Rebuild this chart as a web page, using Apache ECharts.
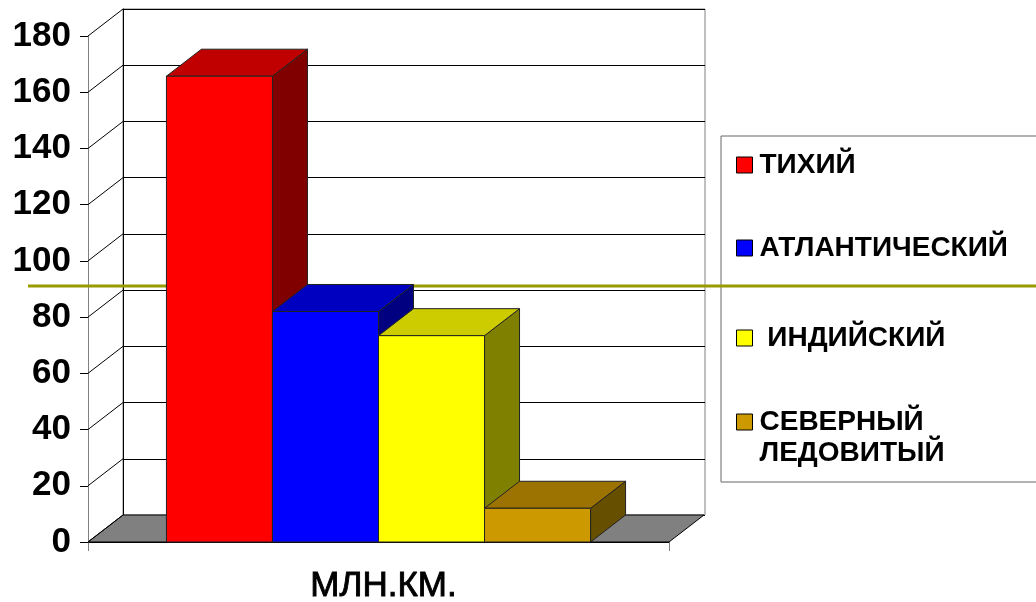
<!DOCTYPE html>
<html>
<head>
<meta charset="utf-8">
<script src="https://cdn.jsdelivr.net/npm/echarts@6/dist/echarts.min.js"></script>
<style>
html,body{margin:0;padding:0;background:#fff;}
#c{width:1036px;height:602px;}
</style>
</head>
<body>
<div id="c"></div>
<script>
// ---- data ----
const categories = ['МЛН.КМ.'];
const oceanNames = ['ТИХИЙ', 'АТЛАНТИЧЕСКИЙ', ' ИНДИЙСКИЙ', 'СЕВЕРНЫЙ ЛЕДОВИТЫЙ'];
const oceanValues = [165.7, 82, 73.4, 12];
const yMin = 0, yMax = 180, yStep = 20;
const yTicks = [0, 20, 40, 60, 80, 100, 120, 140, 160, 180];

// ---- styles ----
const frontColors = ['#FF0000', '#0000FF', '#FFFF00', '#CC9900'];
const topColors   = ['#C00000', '#0000C0', '#CCCC00', '#9C7300'];
const sideColors  = ['#800000', '#000080', '#808000', '#665000'];
const legendTextPadding = [[0, 0, 0, 2], [37, 0, 37, 2], [7, 0, 7, 2], [0, 0, 0, 2]];
const DX = 35, DY = -27;          // 3D depth offset
const GROUP_RATIO = 0.73;         // share of the band used by the bar group
const edge = '#222';

const chart = echarts.init(document.getElementById('c'), null, {renderer: 'canvas'});

function barSeries(i) {
  return {
    type: 'custom',
    name: oceanNames[i],
    xAxisIndex: 0, yAxisIndex: 0,
    z: 5,
    itemStyle: {color: frontColors[i]},
    data: [[0, oceanValues[i]]],
    renderItem: function (params, api) {
      const top = api.coord([api.value(0), api.value(1)]);
      const base = api.coord([api.value(0), 0]);
      const band = api.size([1, 0])[0];
      const gw = band * GROUP_RATIO;
      const bw = gw / oceanNames.length;
      const x0 = top[0] - gw / 2 + i * bw;
      const x1 = x0 + bw;
      const yT = top[1], yB = base[1];
      return {
        type: 'group',
        children: [
          {type: 'polygon', shape: {points: [[x1, yT], [x1 + DX, yT + DY], [x1 + DX, yB + DY], [x1, yB]]},
           style: {fill: sideColors[i], stroke: edge, lineWidth: 1}},
          {type: 'polygon', shape: {points: [[x0, yT], [x1, yT], [x1 + DX, yT + DY], [x0 + DX, yT + DY]]},
           style: {fill: topColors[i], stroke: edge, lineWidth: 1}},
          {type: 'rect', shape: {x: x0, y: yT, width: bw, height: yB - yT},
           style: {fill: frontColors[i], stroke: edge, lineWidth: 1}}
        ]
      };
    }
  };
}

const series = [
  // floor
  {
    type: 'custom', name: '_floor', xAxisIndex: 0, yAxisIndex: 0, z: 2, silent: true,
    data: [[0, 0]],
    renderItem: function (params, api) {
      const cs = params.coordSys;
      const y0 = api.coord([0, 0])[1];
      const xl = cs.x, xr = cs.x + cs.width;
      return {type: 'polygon',
        shape: {points: [[xl, y0], [xr, y0], [xr + DX, y0 + DY], [xl + DX, y0 + DY]]},
        style: {fill: '#808080', stroke: '#000', lineWidth: 1}};
    }
  },
  // side wall grid lines
  {
    type: 'custom', name: '_side', xAxisIndex: 0, yAxisIndex: 0, z: 3, silent: true,
    data: yTicks.map(v => [0, v]),
    renderItem: function (params, api) {
      const cs = params.coordSys;
      const y = api.coord([0, api.value(1)])[1];
      return {type: 'line',
        shape: {x1: cs.x, y1: y, x2: cs.x + DX, y2: y + DY},
        style: {stroke: '#000', lineWidth: 1}};
    }
  }
].concat(oceanNames.map((n, i) => barSeries(i)));

const labelFont = 'Liberation Sans, Arial, sans-serif';

chart.setOption({
  animation: false,
  backgroundColor: '#fff',
  grid: [
    {left: 88, top: 36, width: 581, height: 506, containLabel: false, outerBoundsMode: 'none'},
    {left: 123, top: 9, width: 582, height: 506, containLabel: false, outerBoundsMode: 'none',
     show: true, borderColor: '#808080', borderWidth: 1, backgroundColor: 'transparent'}
  ],
  xAxis: [
    {type: 'category', gridIndex: 0, data: categories,
     axisLine: {show: true, lineStyle: {color: '#000', width: 1}},
     axisTick: {show: true, length: 9, lineStyle: {color: '#808080'}},
     axisLabel: {margin: 27, color: '#000', fontSize: 35, fontWeight: 'normal',
                 textBorderColor: '#000', textBorderWidth: 0.9,
                 padding: [0, 0, 0, 10], fontFamily: labelFont},
     splitLine: {show: false}},
    {type: 'value', gridIndex: 1, show: false, min: 0, max: 1}
  ],
  yAxis: [
    {type: 'value', gridIndex: 0, min: yMin, max: yMax, interval: yStep,
     axisLine: {show: true, lineStyle: {color: '#808080', width: 1}},
     axisTick: {show: true, length: 8, lineStyle: {color: '#000'}},
     axisLabel: {margin: 17, color: '#000', fontSize: 35, fontWeight: 'bold', fontFamily: labelFont},
     splitLine: {show: false}},
    {type: 'value', gridIndex: 1, min: yMin, max: yMax, interval: yStep,
     axisLine: {show: true, lineStyle: {color: '#000', width: 1}},
     axisTick: {show: false}, axisLabel: {show: false},
     splitLine: {show: true, lineStyle: {color: '#000', width: 1}}}
  ],
  legend: {
    data: oceanNames.map((n, i) => ({name: n, textStyle: {padding: legendTextPadding[i]}})),
    orient: 'vertical',
    left: 721, top: 136,
    padding: [13.5, 30, 13.5, 15],
    itemGap: 15,
    itemWidth: 16, itemHeight: 16,
    icon: 'rect',
    itemStyle: {borderColor: '#000', borderWidth: 1},
    borderColor: '#666', borderWidth: 1,
    selectedMode: false,
    // two-word names wrap; a leading blank line keeps the icon beside the first line
    formatter: n => /\S \S/.test(n) ? '\n' + n.replace(/(\S) (\S)/, '$1\n$2') : n,
    textStyle: {fontSize: 28, fontWeight: 'bold', color: '#000', fontFamily: labelFont, lineHeight: 31}
  },
  graphic: [
    {type: 'line', z: 4, shape: {x1: 28, y1: 286, x2: 1036, y2: 286},
     style: {stroke: '#999900', lineWidth: 3}}
  ],
  series: series
});
</script>
</body>
</html>
